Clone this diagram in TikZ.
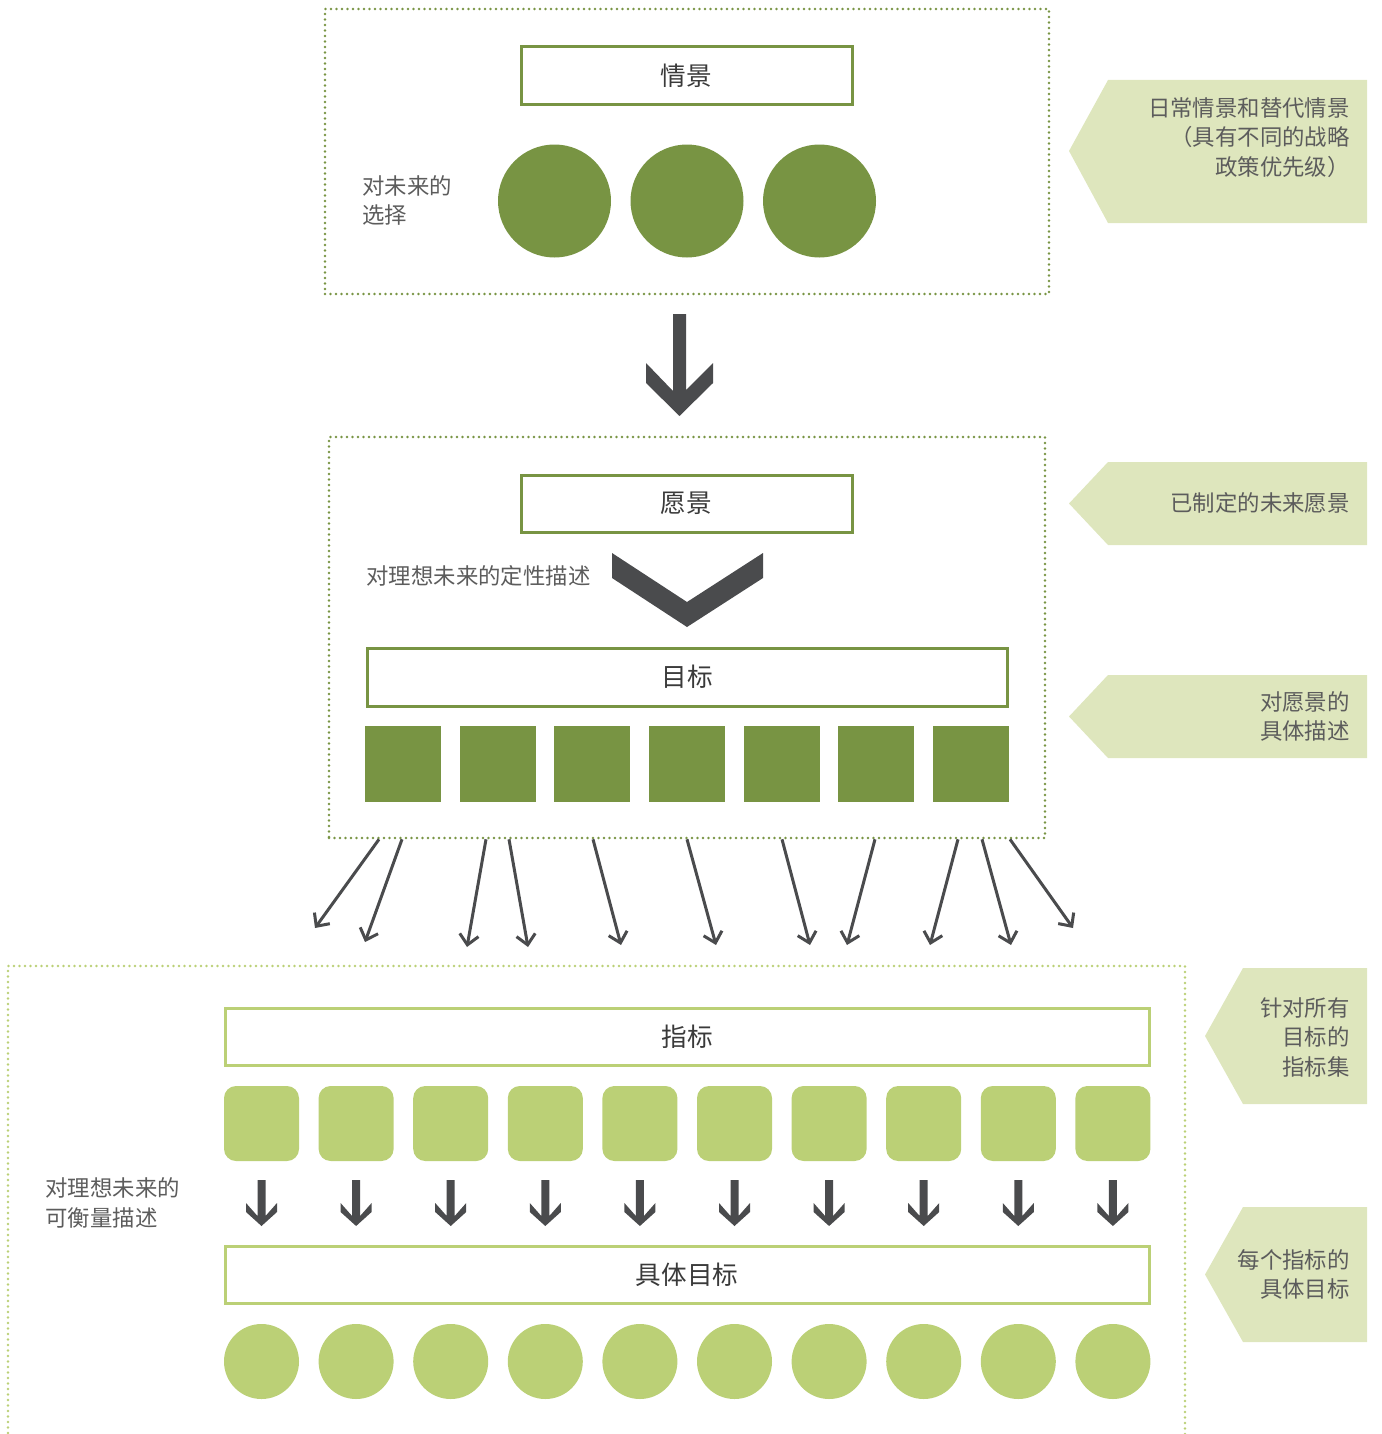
\documentclass[tikz,border=0pt]{standalone}
\usepackage{fontspec}
\newfontfamily\cjk{Noto Sans CJK SC}
\usetikzlibrary{arrows.meta}
\definecolor{olive}{HTML}{789443}
\definecolor{lime}{HTML}{BBD076}
\definecolor{pale}{HTML}{DEE6BD}
\definecolor{ink}{HTML}{4A4B4D}
\definecolor{txt}{HTML}{5C5C5C}
\definecolor{lbl}{HTML}{3A3A3A}
\begin{document}
\begin{tikzpicture}[x=0.5pt,y=-0.5pt,
  frame/.style={draw, line width=1.3pt, line cap=round, dash pattern=on 0pt off 2.75pt, inner sep=0pt},
  labelbox/.style={draw, line width=1.5pt, fill=white, inner sep=0pt, text=lbl,
    font=\cjk\fontsize{12.8}{15}\selectfont},
  desc/.style={inner sep=0pt, text=txt, font=\cjk\fontsize{11.2}{14.75}\selectfont},
  callout/.style={fill=pale},
  flow/.style={draw=ink, line width=1.5pt, -{Straight Barb[length=5pt,width=9.5pt,line width=1.5pt]}},
  bigdot/.style={circle, fill=olive, inner sep=0pt, minimum size=56.5pt},
  tile/.style={rectangle, fill=olive, inner sep=0pt, minimum size=38pt},
  softtile/.style={rectangle, rounded corners=6pt, fill=lime, inner sep=0pt, minimum size=37.5pt},
  softdot/.style={circle, fill=lime, inner sep=0pt, minimum size=37.5pt}]
\useasboundingbox (0,0) rectangle (1381,1434);
\clip (0,0) rectangle (1381,1434);

% --- dotted stage frames ---
\node[frame, draw=olive, minimum width=362pt, minimum height=142.5pt] (stage1) at (687,151.5) {};
\node[frame, draw=olive, minimum width=358pt, minimum height=200.5pt] (stage2) at (687,637.5) {};
\node[frame, draw=lime, minimum width=588.5pt, minimum height=267pt] (stage3) at (596.5,1233) {};

% --- stage 1: scenarios ---
\node[labelbox, draw=olive, minimum width=165.5pt, minimum height=29pt] (scen) at (686.5,76) {情景};
\node[desc, anchor=west, align=left] (choice) at (362,200.5) {对未来的\\选择};
\foreach \x [count=\i] in {554.5,687,819.5}
  \node[bigdot] (opt\i) at (\x,201) {};

% big down arrow between stage 1 and stage 2
\fill[ink] (673,314) -- (686,314) -- (686,390) -- (713,363) -- (713,383) -- (679.5,416)
  -- (646,383) -- (646,363) -- (673,391) -- cycle;

% --- stage 2: vision and goals ---
\node[labelbox, draw=olive, minimum width=165.5pt, minimum height=28.5pt] (vision) at (686.5,503.5) {愿景};
\node[desc, anchor=west] (quali) at (366,576) {对理想未来的定性描述};
\fill[ink] (612,553) -- (687,602) -- (763,553) -- (763,578) -- (687,627) -- (612,578) -- cycle;
\node[labelbox, draw=olive, minimum width=320pt, minimum height=29pt] (goals) at (687,677) {目标};
\foreach \x [count=\i] in {403,498,592,687,782,876,971}
  \node[tile] (goal\i) at (\x,764) {};

% fan-out arrows towards stage 3
\foreach \sx/\ex/\ey [count=\i] in {379/315/928, 402/365/942, 486/467/947, 509/528/947,
    593/621/945, 687/716/945, 782/810/945, 875/847/945, 958/930/945, 982/1011/945, 1010/1073/928} {
  \coordinate (end\i) at (\ex,\ey);
  \draw[flow] (\sx,0 |- stage2.south) -- (end\i);
}

% --- stage 3: indicators and targets ---
\node[labelbox, draw=lime, minimum width=462pt, minimum height=28.5pt] (ind) at (687,1036.5) {指标};
\node[labelbox, draw=lime, minimum width=462pt, minimum height=28.5pt] (tgt) at (687,1274.5) {具体目标};
\node[desc, anchor=west, align=left] (quant) at (45,1203) {对理想未来的\\可衡量描述};
\foreach \i in {0,...,9} {
  \pgfmathsetmacro{\cx}{261.5+94.6*\i}
  \node[softtile] (ind\i) at (\cx,1123.5) {};
  \node[softdot] (tgt\i) at (\cx,1361.5) {};
  \fill[ink] (\cx-4,1180) -- (\cx+4,1180) -- (\cx+4,1216) -- (\cx+15.5,1203) -- (\cx+15.5,1212)
    -- (\cx,1226) -- (\cx-15.5,1212) -- (\cx-15.5,1203) -- (\cx-4,1216) -- cycle;
}

% --- side callouts ---
\fill[callout] (1069,151) -- (1108,80) -- (1367,80) -- (1367,223) -- (1108,223) -- cycle;
\node[desc, anchor=east, align=right] (note1) at (1350,137.5) {日常情景和替代情景\\（具有不同的战略\\政策优先级）};
\fill[callout] (1069,503.5) -- (1108,462) -- (1367,462) -- (1367,545) -- (1108,545) -- cycle;
\node[desc, anchor=east, align=right] (note2) at (1350,503) {已制定的未来愿景};
\fill[callout] (1069,716.5) -- (1108,675) -- (1367,675) -- (1367,758) -- (1108,758) -- cycle;
\node[desc, anchor=east, align=right] (note3) at (1350,716.5) {对愿景的\\具体描述};
\fill[callout] (1205,1036) -- (1243,968) -- (1367,968) -- (1367,1104) -- (1243,1104) -- cycle;
\node[desc, anchor=east, align=right] (note4) at (1350,1037) {针对所有\\目标的\\指标集};
\fill[callout] (1205,1274.5) -- (1243,1207) -- (1367,1207) -- (1367,1342) -- (1243,1342) -- cycle;
\node[desc, anchor=east, align=right] (note5) at (1350,1274.5) {每个指标的\\具体目标};
\end{tikzpicture}
\end{document}
